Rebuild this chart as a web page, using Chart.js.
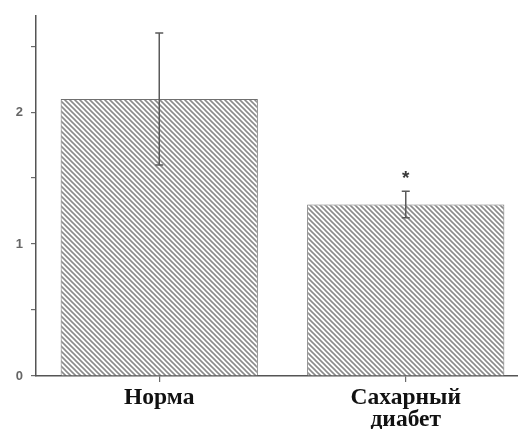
<!DOCTYPE html>
<html>
<head>
<meta charset="utf-8">
<script src="https://cdn.jsdelivr.net/npm/chart.js@4"></script>
<style>
  html, body { margin: 0; padding: 0; background: #fff; overflow: hidden; }
  #wrap { width: 540px; height: 429px; }
</style>
</head>
<body>
<div id="wrap"><canvas id="c" width="540" height="429"></canvas></div>
<script>
// Group labels (multi-line where needed)
const categories = [['Норма'], ['Сахарный', 'диабет']];
// Mean values and their error (±)
const means = [2.1, 1.3];
const errors = [0.5, 0.1];
// Significance marks above the error bars
const marks = ['', '*'];
// Y ticks that carry a label (minor ticks at halves stay blank)
const labelledTicks = [0, 1, 2];

// Diagonal hatch fill
function hatch() {
  const s = 5;
  const p = document.createElement('canvas');
  p.width = s; p.height = s;
  const g = p.getContext('2d');
  g.fillStyle = '#ffffff';
  g.fillRect(0, 0, s, s);
  g.strokeStyle = '#8a8a8a';
  g.lineWidth = 1.6;
  g.beginPath();
  g.moveTo(-1, -1); g.lineTo(s + 1, s + 1);
  g.moveTo(-1, s - 1); g.lineTo(1, s + 1);
  g.moveTo(s - 1, -1); g.lineTo(s + 1, 1);
  g.stroke();
  return g.createPattern(p, 'repeat');
}

const errorBars = {
  id: 'errorBars',
  afterDatasetsDraw(chart) {
    const ctx = chart.ctx;
    const y = chart.scales.y;
    const meta = chart.getDatasetMeta(0);
    ctx.save();
    ctx.strokeStyle = '#5a5a5a';
    ctx.lineWidth = 1.5;
    meta.data.forEach((bar, i) => {
      const x = bar.x;
      const top = y.getPixelForValue(means[i] + errors[i]);
      const bot = y.getPixelForValue(means[i] - errors[i]);
      ctx.beginPath();
      ctx.moveTo(x, top); ctx.lineTo(x, bot);
      ctx.moveTo(x - 4, top); ctx.lineTo(x + 4, top);
      ctx.moveTo(x - 4, bot); ctx.lineTo(x + 4, bot);
      ctx.stroke();
      if (marks[i]) {
        ctx.fillStyle = '#3a3a3a';
        ctx.font = 'bold 19px "Liberation Sans", Arial, sans-serif';
        ctx.textAlign = 'center';
        ctx.textBaseline = 'middle';
        ctx.fillText(marks[i], x, top - 13);
      }
    });
    ctx.restore();
  }
};

new Chart(document.getElementById('c'), {
  type: 'bar',
  data: {
    labels: categories,
    datasets: [{
      data: means,
      backgroundColor: hatch(),
      borderColor: '#707070',
      borderWidth: { top: 1, left: 1, right: 1, bottom: 0 },
      categoryPercentage: 0.8,
      barPercentage: 1.0
    }]
  },
  options: {
    responsive: false,
    animation: false,
    layout: { padding: { top: 13, right: 11, left: 0, bottom: 0 } },
    plugins: { legend: { display: false }, tooltip: { enabled: false } },
    scales: {
      x: {
        offset: true,
        grid: { offset: false, drawOnChartArea: false, drawTicks: true, tickLength: 6, color: '#6a6a6a', lineWidth: 1.2 },
        border: { color: '#555', width: 1.5 },
        ticks: {
          color: '#111',
          padding: 5,
          font: { family: '"Liberation Serif", "Times New Roman", serif', size: 23.5, weight: 'bold', lineHeight: 0.94 }
        },
        afterFit(s) { s.height = 53; }
      },
      y: {
        min: 0,
        max: 2.73,
        grid: { drawOnChartArea: false, drawTicks: true, tickLength: 5, color: '#6a6a6a', lineWidth: 1.2 },
        border: { color: '#555', width: 1.5 },
        ticks: {
          stepSize: 0.5,
          color: '#666',
          padding: 8,
          font: { family: '"Liberation Sans", Arial, sans-serif', size: 13, weight: 'bold' },
          callback: v => labelledTicks.includes(v) ? String(v) : ''
        },
        // keep only the half-step ticks, not the axis end
        afterBuildTicks(s) { s.ticks = s.ticks.filter(t => Math.abs(t.value * 2 - Math.round(t.value * 2)) < 1e-9); },
        afterFit(s) { s.width = 36; }
      }
    }
  },
  plugins: [errorBars]
});
</script>
</body>
</html>
